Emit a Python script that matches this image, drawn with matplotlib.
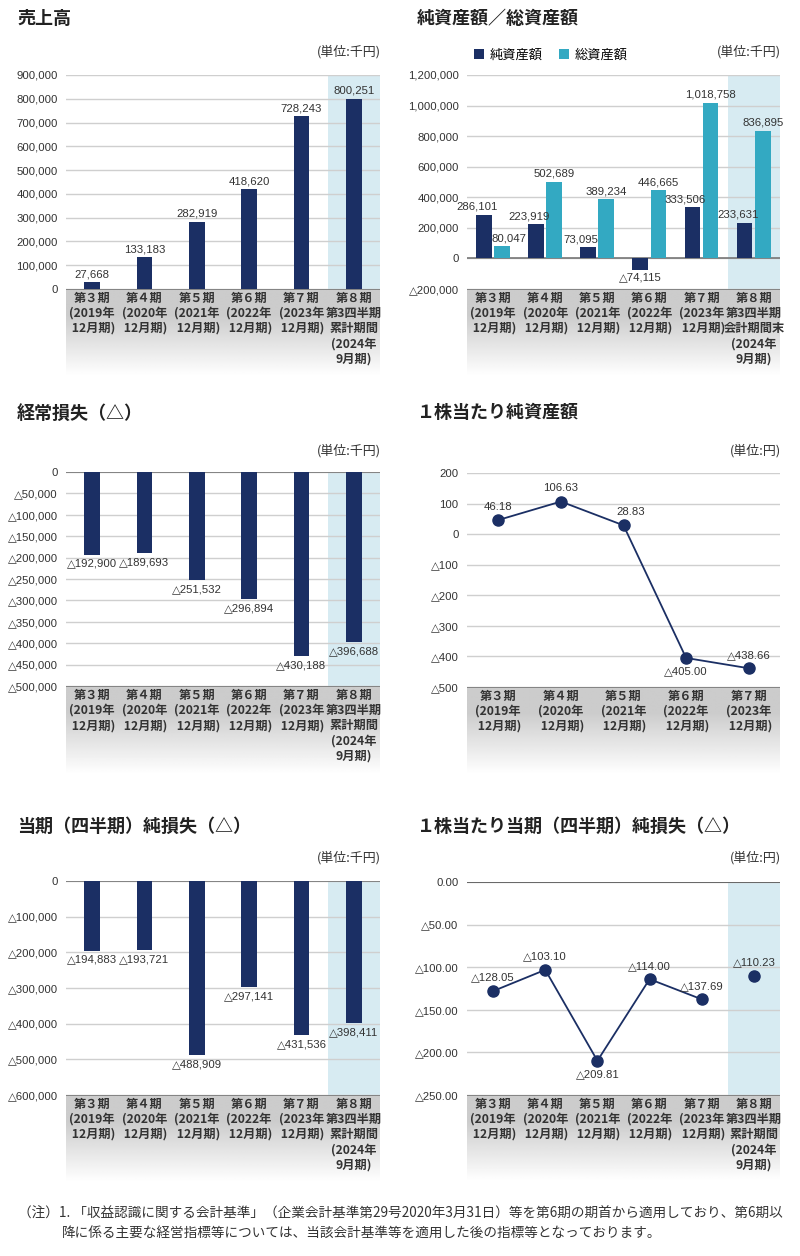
import numpy as np
import matplotlib
matplotlib.use("Agg")
import matplotlib.pyplot as plt

plt.rcParams['font.family'] = ['Noto Sans CJK JP', 'DejaVu Sans']

# ---- data ----
cats = ["第３期\n(2019年\n 12月期)", "第４期\n(2020年\n 12月期)", "第５期\n(2021年\n 12月期)",
        "第６期\n(2022年\n 12月期)", "第７期\n(2023年\n 12月期)"]
cat8_cum = "第８期\n第3四半期\n累計期間\n(2024年\n9月期)"
cat8_end = "第８期\n第3四半期\n会計期間末\n(2024年\n9月期)"

sales = [27668, 133183, 282919, 418620, 728243, 800251]
net_assets = [286101, 223919, 73095, -74115, 333506, 233631]
total_assets = [80047, 502689, 389234, 446665, 1018758, 836895]
ordinary_loss = [-192900, -189693, -251532, -296894, -430188, -396688]
bps = [46.18, 106.63, 28.83, -405.00, -438.66]
net_loss = [-194883, -193721, -488909, -297141, -431536, -398411]
eps = [-128.05, -103.10, -209.81, -114.00, -137.69, -110.23]

NAVY = '#1b2f64'
TEAL = '#33a9c2'
HL = '#d7ebf2'
GRID = '#cfcfcf'
TXT = '#333333'
NUM = ['Liberation Sans', 'DejaVu Sans']
NUMSIZE = 8.2

W, H = 800, 1256
fig = plt.figure(figsize=(W / 100, H / 100), dpi=100)


def px_axes(x0, y0, x1, y1):
    return fig.add_axes([x0 / W, 1 - y1 / H, (x1 - x0) / W, (y1 - y0) / H])


def fmt(v, dec=0):
    s = f"{abs(v):,.{dec}f}"
    return "△" + s if v < 0 else s


def make_panel(x0, x1, ytop, ybot, lbot, ylim, ticks, labels, n, highlight, tickdec=0):
    ax = px_axes(x0, ytop, x1, ybot)
    ax.set_xlim(-0.5, n - 0.5)
    ax.set_ylim(*ylim)
    ax.set_yticks(ticks)
    ax.set_yticklabels([fmt(t, tickdec) for t in ticks], family=NUM, fontsize=NUMSIZE, color=TXT)
    ax.tick_params(length=0, pad=6)
    ax.set_xticks([])
    for s in ax.spines.values():
        s.set_visible(False)
    ax.grid(axis='y', color=GRID, lw=1)
    ax.set_axisbelow(True)
    if highlight:
        ax.axvspan(n - 1.5, n - 0.5, color=HL, zorder=0, lw=0)
    # category strip with gray gradient
    lab = px_axes(x0, ybot, x1, lbot)
    grad = np.concatenate([np.full(30, 0.80), np.linspace(0.80, 1.0, 70)]).reshape(-1, 1)
    lab.imshow(grad, cmap='gray', vmin=0, vmax=1, aspect='auto',
               extent=[-0.5, n - 0.5, 0, 1], interpolation='bilinear')
    lab.set_xlim(-0.5, n - 0.5)
    lab.set_ylim(0, 1)
    lab.axis('off')
    lab.axhline(1, color='#777777', lw=1.2)
    for i, c in enumerate(labels):
        lab.text(i, 0.97, c, ha='center', va='top', fontsize=8.8, fontweight='bold',
                 color=TXT, linespacing=1.22, multialignment='center')
    return ax


def title(x, y, s):
    fig.text(x / W, 1 - y / H, s, fontsize=13, fontweight='bold', color='#222222', va='center')


def unit(x, y, s):
    fig.text(x / W, 1 - y / H, s, fontsize=9.3, color=TXT, ha='right', va='center')


def vlabel(ax, x, y, s, dy, dx=0):
    ax.annotate(s, (x, y), xytext=(dx, dy), textcoords='offset points', ha='center',
                va='bottom' if dy > 0 else 'top', family=NUM, fontsize=NUMSIZE, color=TXT)


idx6 = np.arange(6)
idx5 = np.arange(5)

# ---- 売上高 ----
title(17, 18, "売上高")
unit(381, 52, "(単位:千円)")
ax = make_panel(66, 380, 75, 289, 376, (0, 900000), np.arange(0, 900001, 100000),
                cats + [cat8_cum], 6, True)
ax.bar(idx6, sales, width=0.3, color=NAVY, zorder=3)
for i, v in enumerate(sales):
    vlabel(ax, i, v, fmt(v), 2)

# ---- 純資産額／総資産額 ----
title(417, 18, "純資産額／総資産額")
unit(781, 52, "(単位:千円)")
ax = make_panel(467, 780, 75, 289, 376, (-200000, 1200000), np.arange(-200000, 1200001, 200000),
                cats + [cat8_end], 6, True)
ax.bar(idx6 - 0.18, net_assets, width=0.3, color=NAVY, zorder=3, label="純資産額")
ax.bar(idx6 + 0.17, total_assets, width=0.3, color=TEAL, zorder=3, label="総資産額")
ax.axhline(0, color='#777777', lw=1.2, zorder=2)
for i, v in enumerate(net_assets):
    if v < 0:
        vlabel(ax, i - 0.18, v, fmt(v), -2)
    else:
        vlabel(ax, i - 0.18, v, fmt(v), 2, dx=-5)
for i, v in enumerate(total_assets):
    vlabel(ax, i + 0.17, v, fmt(v), 2, dx=5 if v < 200000 else 0)
ax.legend(loc='lower left', bbox_to_anchor=(-0.02, 1.0), ncol=2, frameon=False,
          handlelength=0.8, handleheight=0.8, handletextpad=0.4, columnspacing=1.2,
          prop={'family': 'Noto Sans CJK JP', 'size': 9.5}, borderaxespad=0.6)

# ---- 経常損失（△） ----
title(17, 413, "経常損失（△）")
unit(381, 451, "(単位:千円)")
ax = make_panel(66, 380, 472, 686, 774, (-500000, 0), np.arange(-500000, 1, 50000),
                cats + [cat8_cum], 6, True)
ax.bar(idx6, ordinary_loss, width=0.3, color=NAVY, zorder=3)
ax.axhline(0, color='#777777', lw=1.2, zorder=2)
for i, v in enumerate(ordinary_loss):
    vlabel(ax, i, v, fmt(v), -3)

# ---- １株当たり純資産額 ----
title(417, 413, "１株当たり純資産額")
unit(781, 451, "(単位:円)")
ax = make_panel(467, 780, 473, 687, 774, (-500, 200), np.arange(-500, 201, 100),
                cats, 5, False)
ax.plot(idx5, bps, color=NAVY, lw=1.3, marker='o', ms=8, zorder=3)
bps_dy = [6, 6, 6, -6, 6]
bps_dx = [0, 0, 5, 0, 0]
for i, v in enumerate(bps):
    vlabel(ax, i, v, fmt(v, 2), bps_dy[i], bps_dx[i])

# ---- 当期（四半期）純損失（△） ----
title(17, 826, "当期（四半期）純損失（△）")
unit(381, 858, "(単位:千円)")
ax = make_panel(66, 380, 881, 1095, 1182, (-600000, 0), np.arange(-600000, 1, 100000),
                cats + [cat8_cum], 6, True)
ax.bar(idx6, net_loss, width=0.3, color=NAVY, zorder=3)
ax.axhline(0, color='#777777', lw=1.2, zorder=2)
for i, v in enumerate(net_loss):
    vlabel(ax, i, v, fmt(v), -3)

# ---- １株当たり当期（四半期）純損失（△） ----
title(417, 826, "１株当たり当期（四半期）純損失（△）")
unit(781, 858, "(単位:円)")
ax = make_panel(467, 780, 882, 1095, 1181, (-250, 0), np.arange(-250, 1, 50),
                cats + [cat8_cum], 6, True, tickdec=2)
ax.axhline(0, color='#555555', lw=1.2, zorder=2)
ax.plot(idx6[:5], eps[:5], color=NAVY, lw=1.3, marker='o', ms=8, zorder=3)
ax.plot(idx6[5:], eps[5:], color=NAVY, lw=0, marker='o', ms=8, zorder=3)
eps_dy = [6, 6, -6, 6, 6, 6]
for i, v in enumerate(eps):
    vlabel(ax, i, v, fmt(v, 2), eps_dy[i])

# ---- footnote ----
fig.text(18 / W, 1 - 1214 / H,
         "（注）1. 「収益認識に関する会計基準」（企業会計基準第29号2020年3月31日）等を第6期の期首から適用しており、第6期以",
         fontsize=9.8, color=TXT, va='center')
fig.text(62 / W, 1 - 1234 / H,
         "降に係る主要な経営指標等については、当該会計基準等を適用した後の指標等となっております。",
         fontsize=9.8, color=TXT, va='center')

fig.savefig("out.png", dpi=100)
